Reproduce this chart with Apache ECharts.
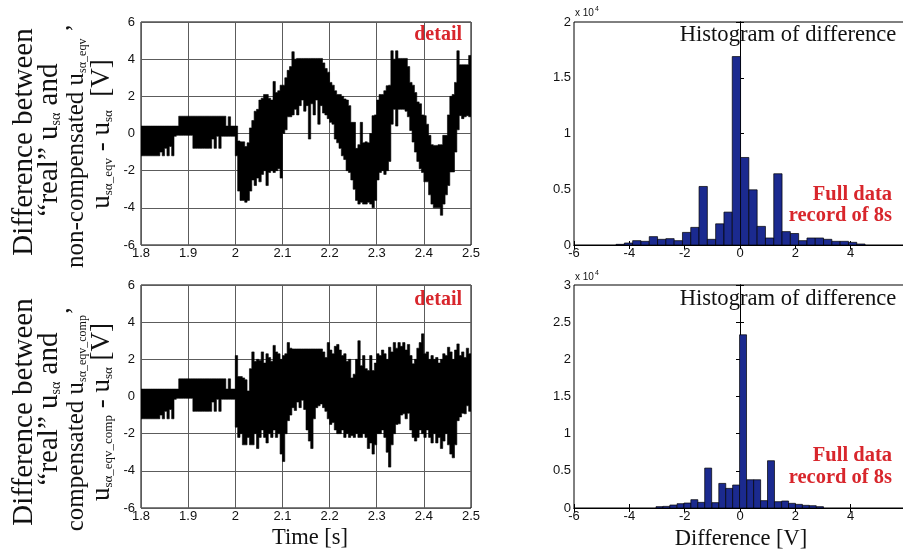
<!DOCTYPE html>
<html><head><meta charset="utf-8">
<script src="https://cdn.jsdelivr.net/npm/echarts@6/dist/echarts.min.js"></script>
<style>html,body{margin:0;padding:0;background:#fff}#c{width:903px;height:553px}</style>
</head><body><div id="c"></div>
<script>
// ---- time-series envelopes (one low/high pair every 5 ms from 1.8 s) ----
const timeStart = 1.8, timeStep = 0.005;
const nonCompLow = [
-1.2,-1.2,-1.2,-1.2,-1.2,-1.2,-1.2,-1.2,-1.0,-1.2,
-0.8,-1.2,-0.7,-1.2,-0.15,-0.1,-0.1,-0.1,-0.1,-0.1,
-0.1,-0.1,-0.8,-0.8,-0.8,-0.8,-0.8,-0.8,-0.8,-0.8,
-0.3,-0.8,-0.15,-0.8,-0.15,-0.15,-0.15,-0.15,-0.15,-0.15,
-1.2,-3.1,-3.6,-3.6,-3.7,-3.6,-3.1,-2.5,-2.8,-2.4,
-2.6,-2.2,-2.0,-2.8,-2.1,-2.0,-2.1,-2.0,-1.9,-2.4,
0.0,0.2,0.9,0.9,1.0,1.3,1.0,1.5,1.8,1.2,
1.5,-0.3,1.6,1.0,1.8,0.5,1.5,1.1,1.0,0.8,
0.6,0.5,-0.3,-0.5,-0.8,-1.2,-1.4,-2.0,-2.1,-2.5,
-3.0,-3.6,-3.8,-3.7,-3.8,-3.8,-3.7,-3.8,-4.0,-3.6,
-2.5,-2.1,-2.0,-2.2,-2.0,-1.5,0.5,1.3,0.4,1.3,
1.3,1.3,1.2,0.9,0.16,-0.46,-1.0,-1.5,-1.9,-2.1,
-2.6,-2.6,-3.3,-3.8,-4.0,-4.0,-4.0,-4.4,-3.8,-3.3,
-2.8,-2.07,-2.07,-1.0,0.2,0.96,0.8,0.9,0.96,0.9];
const nonCompHigh = [
0.4,0.4,0.4,0.4,0.4,0.4,0.4,0.4,0.4,0.4,
0.4,0.4,0.4,0.4,0.4,0.4,0.93,0.93,0.93,0.93,
0.93,0.93,0.93,0.93,0.93,0.93,0.93,0.93,0.93,0.93,
0.93,0.93,0.93,0.93,0.93,0.93,0.4,0.9,0.4,0.4,
0.4,-0.4,-0.45,-0.45,-0.7,-0.5,0.3,0.7,1.2,1.3,
1.8,1.9,2.1,2.1,1.9,1.8,2.8,2.2,2.3,2.6,
2.6,3.0,3.4,3.6,4.4,4.0,4.04,4.04,4.04,4.04,
4.04,4.04,4.04,4.04,4.04,4.04,4.04,3.8,3.5,3.3,
2.75,2.6,2.3,2.1,2.1,2.0,1.86,1.8,1.5,0.6,
0.6,-0.8,-0.6,0.6,-0.5,-0.45,-0.5,0.0,0.96,1.0,
1.8,2.1,2.1,2.3,2.57,2.6,4.45,4.0,4.45,4.04,
4.04,4.04,4.04,3.6,2.75,2.6,2.2,1.7,1.6,1.0,
0.96,0.5,-0.1,-0.6,-0.64,-0.64,-0.6,-0.6,-0.1,-0.1,
1.0,2.0,2.1,2.75,4.45,3.7,3.7,3.7,3.7,4.2];
const compLow = [
-1.2,-1.2,-1.2,-1.2,-1.2,-1.2,-1.2,-1.2,-1.0,-1.2,
-0.8,-1.2,-0.7,-1.2,-0.15,-0.1,-0.1,-0.1,-0.1,-0.1,
-0.1,-0.1,-0.8,-0.8,-0.8,-0.8,-0.8,-0.8,-0.8,-0.8,
-0.3,-0.8,-0.15,-0.8,-0.15,-0.15,-0.15,-0.15,-0.15,-0.15,
-1.65,-2.2,-2.0,-2.6,-2.6,-2.2,-2.6,-2.6,-2.0,-2.8,
-2.2,-1.8,-2.2,-2.5,-2.0,-2.2,-1.8,-2.2,-2.0,-3.1,
-3.5,-2.0,-1.3,-1.0,-0.6,-0.75,-0.3,-0.6,-0.2,-0.7,
-1.8,-2.4,-2.8,-1.2,-0.6,-0.5,-0.4,-0.6,-0.8,-1.2,
-1.5,-1.4,-1.8,-2.0,-2.0,-1.8,-2.2,-2.0,-2.2,-2.1,
-2.2,-2.0,-2.2,-2.2,-2.0,-2.2,-2.8,-2.5,-3.1,-2.6,
-2.0,-2.0,-1.8,-2.2,-3.0,-3.8,-2.6,-2.0,-1.5,-1.47,
-1.0,-0.93,-1.2,-0.9,-1.8,-2.2,-2.4,-2.2,-1.8,-2.0,
-2.2,-1.8,-2.2,-2.5,-2.0,-2.5,-2.2,-2.8,-2.4,-2.0,
-2.6,-3.1,-3.3,-2.6,-1.3,-1.1,-0.9,-0.93,-0.5,-0.8];
const compHigh = [
0.4,0.4,0.4,0.4,0.4,0.4,0.4,0.4,0.4,0.4,
0.4,0.4,0.4,0.4,0.4,0.4,0.95,0.95,0.95,0.95,
0.95,0.95,0.95,0.95,0.95,0.95,0.95,0.95,0.95,0.95,
0.95,0.95,0.95,0.95,0.95,0.95,0.4,0.95,0.4,0.4,
2.2,1.07,1.07,1.0,0.9,0.3,1.5,2.4,1.9,2.0,
1.94,2.4,1.8,2.3,2.1,1.9,2.75,2.4,2.3,2.0,
2.2,2.3,2.9,2.6,2.56,2.56,2.56,2.56,2.56,2.56,
2.56,2.56,2.56,2.56,2.56,2.56,2.56,2.4,2.1,2.9,
2.5,2.3,2.7,2.8,2.5,2.2,2.3,1.9,2.0,1.0,
1.2,2.0,3.0,1.66,2.2,1.5,1.4,2.2,1.4,1.8,
2.3,2.2,2.5,2.3,2.0,2.65,2.4,2.9,2.6,2.9,
2.7,2.9,2.5,2.8,2.2,1.76,2.0,2.6,2.9,3.37,
2.3,2.4,2.0,2.2,2.0,2.1,1.8,2.0,2.3,2.2,
2.65,2.4,2.0,2.5,2.83,2.2,2.4,2.1,2.6,2.3];

// ---- histograms ----
const hist1Centers = [-4.33,-4.03,-3.73,-3.43,-3.13,-2.83,-2.53,-2.23,-1.93,-1.63,
  -1.33,-1.03,-0.73,-0.43,-0.13,0.17,0.47,0.77,1.07,1.37,
  1.67,1.97,2.27,2.57,2.87,3.17,3.47,3.77,4.07,4.37];
const hist1Counts = [60,180,390,330,750,510,570,390,1130,1580,
  5250,510,1900,2950,16900,7850,4950,1670,630,6390,
  1200,1030,390,630,630,510,330,330,240,90];
const hist1Width = 0.3;
const hist2Centers = [-2.91,-2.66,-2.41,-2.15,-1.90,-1.65,-1.40,-1.15,-0.89,-0.64,
  -0.39,-0.14,0.11,0.37,0.62,0.87,1.12,1.37,1.63,1.88,2.13,2.38,2.63,2.89];
const hist2Counts = [180,220,400,580,670,1120,760,5370,720,3310,
  2640,3090,23300,3800,3800,990,6360,850,940,630,490,360,310,180];
const hist2Width = 0.252;

const SERIF = 'Liberation Serif', SANS = 'Liberation Sans';

// envelope: one closed step-polygon through every (t, high) then back through every (t, low)
function envData(lo, hi) {
  return lo.map((v, i) => [timeStart + i * timeStep, v, hi[i]]);
}
function envRender(lo, hi) {
  return function (params, api) {
    if (params.dataIndex !== 0) return null;
    const pts = [];
    for (let i = 0; i < hi.length; i++) {
      const t = timeStart + i * timeStep;
      pts.push(api.coord([t, hi[i]]));
      pts.push(api.coord([t + timeStep, hi[i]]));
    }
    for (let i = lo.length - 1; i >= 0; i--) {
      const t = timeStart + i * timeStep;
      pts.push(api.coord([t + timeStep, lo[i]]));
      pts.push(api.coord([t, lo[i]]));
    }
    return { type: 'polygon', shape: { points: pts },
      style: { fill: '#000', stroke: '#000', lineWidth: 0.6 } };
  };
}
function histData(c, n) { return c.map((x, i) => [x, n[i]]); }
function histRender(w) {
  return function (params, api) {
    const c = api.value(0), h = api.value(1);
    const p0 = api.coord([c - w / 2, h]);
    const p1 = api.coord([c + w / 2, 0]);
    return { type: 'rect', shape: { x: p0[0], y: p0[1], width: p1[0] - p0[0], height: p1[1] - p0[1] },
      style: { fill: '#1b2a8f', stroke: '#000', lineWidth: 0.7 } };
  };
}
const lab = { fontFamily: SANS, fontSize: 13, color: '#111' };
function timeX(g) {
  return { type: 'value', gridIndex: g, min: 1.8, max: 2.5, interval: 0.1,
    axisLine: { show: false }, axisTick: { show: false },
    splitLine: { show: true, lineStyle: { color: '#5c5c5c', width: 1 } },
    axisLabel: Object.assign({ margin: 2 }, lab) };
}
function voltY(g) {
  return { type: 'value', gridIndex: g, min: -6, max: 6, interval: 2,
    axisLine: { show: false }, axisTick: { show: false },
    splitLine: { show: true, lineStyle: { color: '#5c5c5c', width: 1 } },
    axisLabel: Object.assign({ margin: 6 }, lab) };
}
function histX(g, pos, showLabel) {
  return { type: 'value', gridIndex: g, position: pos, min: -6, max: 6, interval: 2,
    axisLine: { show: true, lineStyle: { color: '#000', width: 1 } },
    axisTick: { show: true, inside: true, length: 4, lineStyle: { color: '#000' } },
    splitLine: { show: false },
    axisLabel: Object.assign({ show: showLabel, margin: 2 }, lab) };
}
function histY(g, pos, max, showLabel) {
  return { type: 'value', gridIndex: g, position: pos, min: 0, max: max, interval: 5000,
    axisLine: { show: true, lineStyle: { color: '#000', width: 1 } },
    axisTick: { show: true, inside: true, length: 4, lineStyle: { color: '#000' } },
    splitLine: { show: false },
    axisLabel: Object.assign({ show: showLabel, margin: 3, formatter: v => String(v / 10000) }, lab) };
}
function richLab(m, s, pad) {
  return {
    m: { fontFamily: SERIF, fontSize: m, lineHeight: m, fill: '#111' },
    s: { fontFamily: SERIF, fontSize: s, lineHeight: s, padding: [pad, 0, 0, 0], fill: '#111' }
  };
}
function vtext(x, y, str, m, s, pad) {
  return { type: 'text', x: x, y: y, rotation: Math.PI / 2,
    style: { text: str, rich: richLab(m, s, pad), align: 'center', verticalAlign: 'middle', fill: '#111' } };
}
function htext(x, y, str, size, weight, color, align) {
  return { type: 'text', x: x, y: y,
    style: { text: str, fontFamily: SERIF, fontSize: size, fontWeight: weight, fill: color,
      align: align, verticalAlign: 'middle' } };
}
function sansText(x, y, str, size) {
  return { type: 'text', x: x, y: y,
    style: { text: str, fontFamily: SANS, fontSize: size, fill: '#111', align: 'left', verticalAlign: 'middle' } };
}
const RED = '#d8262c';
const gridBase = { show: true, borderColor: '#000', borderWidth: 1, outerBoundsMode: 'none', containLabel: false };

const chart = echarts.init(document.getElementById('c'), null, { renderer: 'canvas' });
chart.setOption({
  animation: false,
  backgroundColor: '#fff',
  grid: [
    Object.assign({ left: 141, top: 22, width: 330, height: 223 }, gridBase),
    Object.assign({ left: 141, top: 285, width: 330, height: 223 }, gridBase),
    Object.assign({ left: 574, top: 22, width: 332, height: 223 }, gridBase),
    Object.assign({ left: 574, top: 285, width: 332, height: 223 }, gridBase)
  ],
  xAxis: [timeX(0), timeX(1), histX(2, 'bottom', true), histX(2, 'top', false), histX(3, 'bottom', true), histX(3, 'top', false)],
  yAxis: [voltY(0), voltY(1), histY(2, 'left', 20000, true), histY(2, 'right', 20000, false), histY(3, 'left', 30000, true), histY(3, 'right', 30000, false)],
  series: [
    { type: 'custom', xAxisIndex: 0, yAxisIndex: 0, data: envData(nonCompLow, nonCompHigh),
      encode: { x: 0, y: [1, 2] }, renderItem: envRender(nonCompLow, nonCompHigh), silent: true, clip: true },
    { type: 'custom', xAxisIndex: 1, yAxisIndex: 1, data: envData(compLow, compHigh),
      encode: { x: 0, y: [1, 2] }, renderItem: envRender(compLow, compHigh), silent: true, clip: true },
    { type: 'custom', xAxisIndex: 2, yAxisIndex: 2, data: histData(hist1Centers, hist1Counts),
      encode: { x: 0, y: 1 }, renderItem: histRender(hist1Width), silent: true },
    { type: 'custom', xAxisIndex: 4, yAxisIndex: 4, data: histData(hist2Centers, hist2Counts),
      encode: { x: 0, y: 1 }, renderItem: histRender(hist2Width), silent: true }
  ],
  graphic: [
    vtext(24, 142, '{m|Difference between}', 29, 14, 15),
    vtext(49, 140, '{m|“real” u}{s|sα}{m| and}', 29, 14, 15),
    vtext(76, 146, '{m|non-compensated u}{s|sα_eqv}{m| ’}', 25, 12, 13),
    vtext(102, 134, '{m|u}{s|sα_eqv}{m| - u}{s|sα}{m|  [V]}', 27, 13, 14),
    vtext(24, 412, '{m|Difference between}', 29, 14, 15),
    vtext(49, 409, '{m|“real” u}{s|sα}{m| and}', 29, 14, 15),
    vtext(76, 419, '{m|compensated u}{s|sα_eqv_comp}{m|’}', 25, 12, 13),
    vtext(102, 412, '{m|u}{s|sα_eqv_comp}{m| - u}{s|sα}{m| [V]}', 27, 13, 14),
    htext(462, 35, 'detail', 20, 'bold', RED, 'right'),
    htext(462, 300, 'detail', 20, 'bold', RED, 'right'),
    htext(788, 35, 'Histogram of difference', 22.6, 'normal', '#111', 'center'),
    htext(788, 299, 'Histogram of difference', 22.6, 'normal', '#111', 'center'),
    htext(892, 195, 'Full data', 20.5, 'bold', RED, 'right'),
    htext(892, 216, 'record of 8s', 20.5, 'bold', RED, 'right'),
    htext(892, 456, 'Full data', 20.5, 'bold', RED, 'right'),
    htext(892, 478, 'record of 8s', 20.5, 'bold', RED, 'right'),
    htext(310, 538, 'Time [s]', 22.5, 'normal', '#111', 'center'),
    htext(741, 539, 'Difference [V]', 22.5, 'normal', '#111', 'center'),
    sansText(575, 13.5, 'x 10', 10),
    sansText(595, 9.5, '4', 7),
    sansText(575, 277, 'x 10', 10),
    sansText(595, 273, '4', 7)
  ]
});
</script>
</body></html>
